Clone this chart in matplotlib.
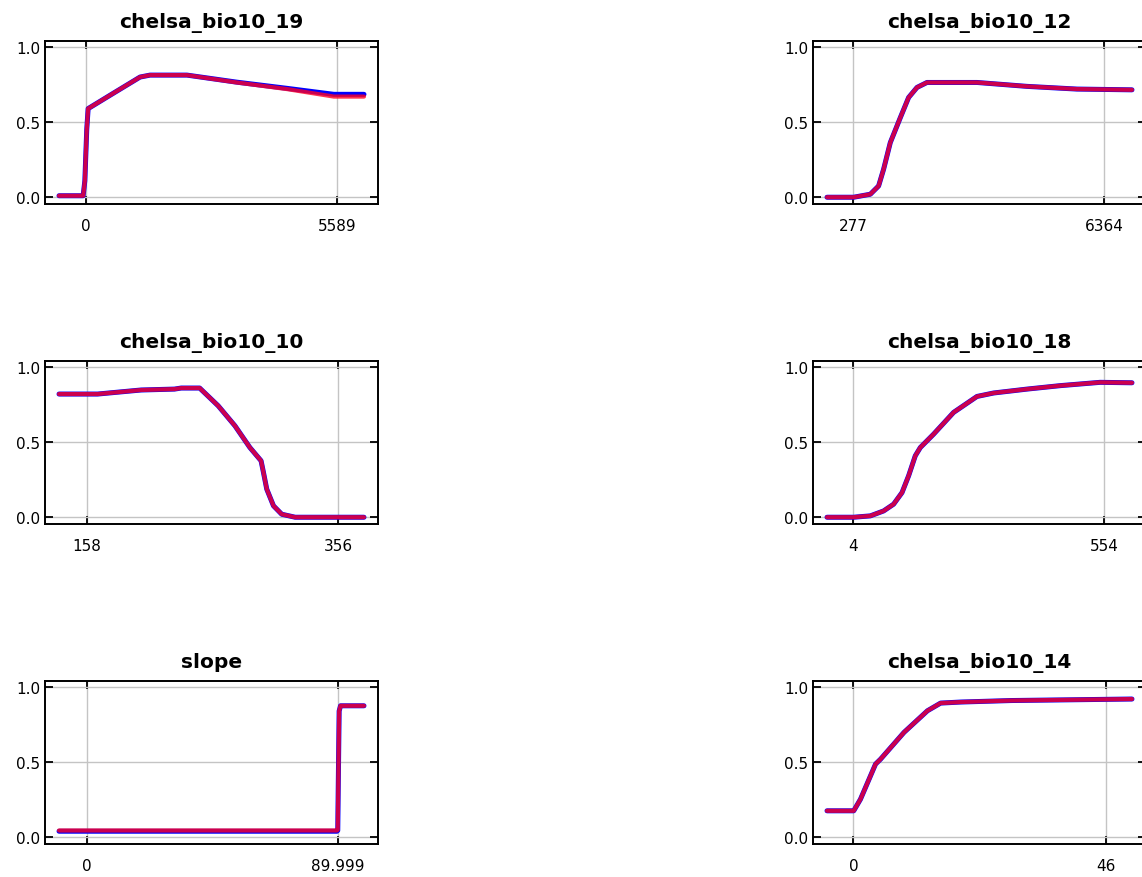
import numpy as np
import matplotlib.pyplot as plt

# Response curves: x values in variable units, y values in [0, 1]
titles = ["chelsa_bio10_19", "chelsa_bio10_12",
          "chelsa_bio10_10", "chelsa_bio10_18",
          "slope", "chelsa_bio10_14"]

xticks = [[0, 5589], [277, 6364],
          [158, 356], [4, 554],
          [0, 89.999], [0, 46]]

xtick_labels = [["0", "5589"], ["277", "6364"],
                ["158", "356"], ["4", "554"],
                ["0", "89.999"], ["0", "46"]]

x_bio19 = [-597, -60, -22, 20, 51, 600, 1207, 1431, 2251, 3360, 4475, 5522, 6193]
red_bio19 = [0.01, 0.01, 0.11, 0.45, 0.59, 0.69, 0.80, 0.813, 0.813, 0.764, 0.72, 0.67, 0.67]
blue_bio19 = [0.01, 0.01, 0.11, 0.45, 0.59, 0.69, 0.80, 0.813, 0.813, 0.766, 0.725, 0.685, 0.685]

x_bio12 = [-361, 284, 689, 890, 1012, 1174, 1417, 1618, 1822, 2064, 3277, 4489, 5702, 7036]
y_bio12 = [0.0, 0.0, 0.02, 0.075, 0.187, 0.364, 0.53, 0.664, 0.731, 0.764, 0.764, 0.738, 0.72, 0.715]

x_bio10 = [136.1, 166.5, 200.8, 227.1, 232.4, 246.9, 261.5, 274.7, 286.5, 295.3,
           297.2, 299.8, 305.1, 311.6, 322.2, 376.4]
y_bio10 = [0.82, 0.82, 0.847, 0.853, 0.86, 0.86, 0.742, 0.609, 0.464, 0.376,
           0.298, 0.187, 0.076, 0.02, 0.0, 0.0]

x_bio18 = [-53.6, 4.7, 41.2, 70.4, 92.3, 110.7, 125.2, 139.8, 150.8, 179.9,
           223.8, 275.0, 311.4, 384.6, 457.5, 545.0, 614.6]
y_bio18 = [0.0, 0.0, 0.009, 0.042, 0.087, 0.164, 0.276, 0.409, 0.464, 0.553,
           0.698, 0.804, 0.827, 0.853, 0.876, 0.898, 0.895]

x_slope = [-10.0, 89.6, 89.9, 90.4, 90.9, 99.3]
red_slope = [0.045, 0.045, 0.05, 0.84, 0.875, 0.875]
blue_slope = [0.04, 0.04, 0.045, 0.84, 0.875, 0.875]

x_bio14 = [-4.82, 0.05, 1.28, 4.03, 4.95, 9.22, 13.5, 15.9, 19.6, 28.8, 50.8]
y_bio14 = [0.176, 0.176, 0.253, 0.487, 0.52, 0.698, 0.842, 0.893, 0.9, 0.91, 0.92]

series = [(x_bio19, blue_bio19, red_bio19),
          (x_bio12, y_bio12, y_bio12),
          (x_bio10, y_bio10, y_bio10),
          (x_bio18, y_bio18, y_bio18),
          (x_slope, blue_slope, red_slope),
          (x_bio14, y_bio14, y_bio14)]

fig = plt.figure(figsize=(11.42, 8.78), dpi=100)

col_left = [45 / 1142, 813 / 1142]
row_bottom = [1 - 205 / 878, 1 - 525 / 878, 1 - 845 / 878]
ax_w = 333 / 1142
ax_h = 163 / 878

for i, (xs, blue, red) in enumerate(series):
    r, c = divmod(i, 2)
    ax = fig.add_axes([col_left[c], row_bottom[r], ax_w, ax_h])

    ax.plot(xs, blue, color="#0000ff", lw=3.6, solid_capstyle="round",
            solid_joinstyle="round", zorder=3)
    ax.plot(xs, red, color="#ff0022", lw=3.0, alpha=0.8, solid_capstyle="round",
            solid_joinstyle="round", zorder=4)

    span = max(xs) - min(xs)
    ax.set_xlim(min(xs) - 0.046 * span, max(xs) + 0.046 * span)
    ax.set_ylim(-0.045, 1.04)

    ax.set_xticks(xticks[i])
    ax.set_xticklabels(xtick_labels[i])
    ax.set_yticks([0.0, 0.5, 1.0])
    ax.set_yticklabels(["0.0", "0.5", "1.0"])

    ax.grid(True, color="#c4c4c4", lw=1.0, zorder=0)
    ax.tick_params(direction="in", length=5.5, width=1.3, top=True, right=True,
                   labelsize=11, colors="black")
    ax.tick_params(axis="x", pad=10)
    ax.tick_params(axis="y", pad=3.5)
    for sp in ax.spines.values():
        sp.set_linewidth(1.4)

    ax.set_title(titles[i], fontsize=14.5, fontweight="bold", pad=10)

fig.savefig("out.png", dpi=100)
